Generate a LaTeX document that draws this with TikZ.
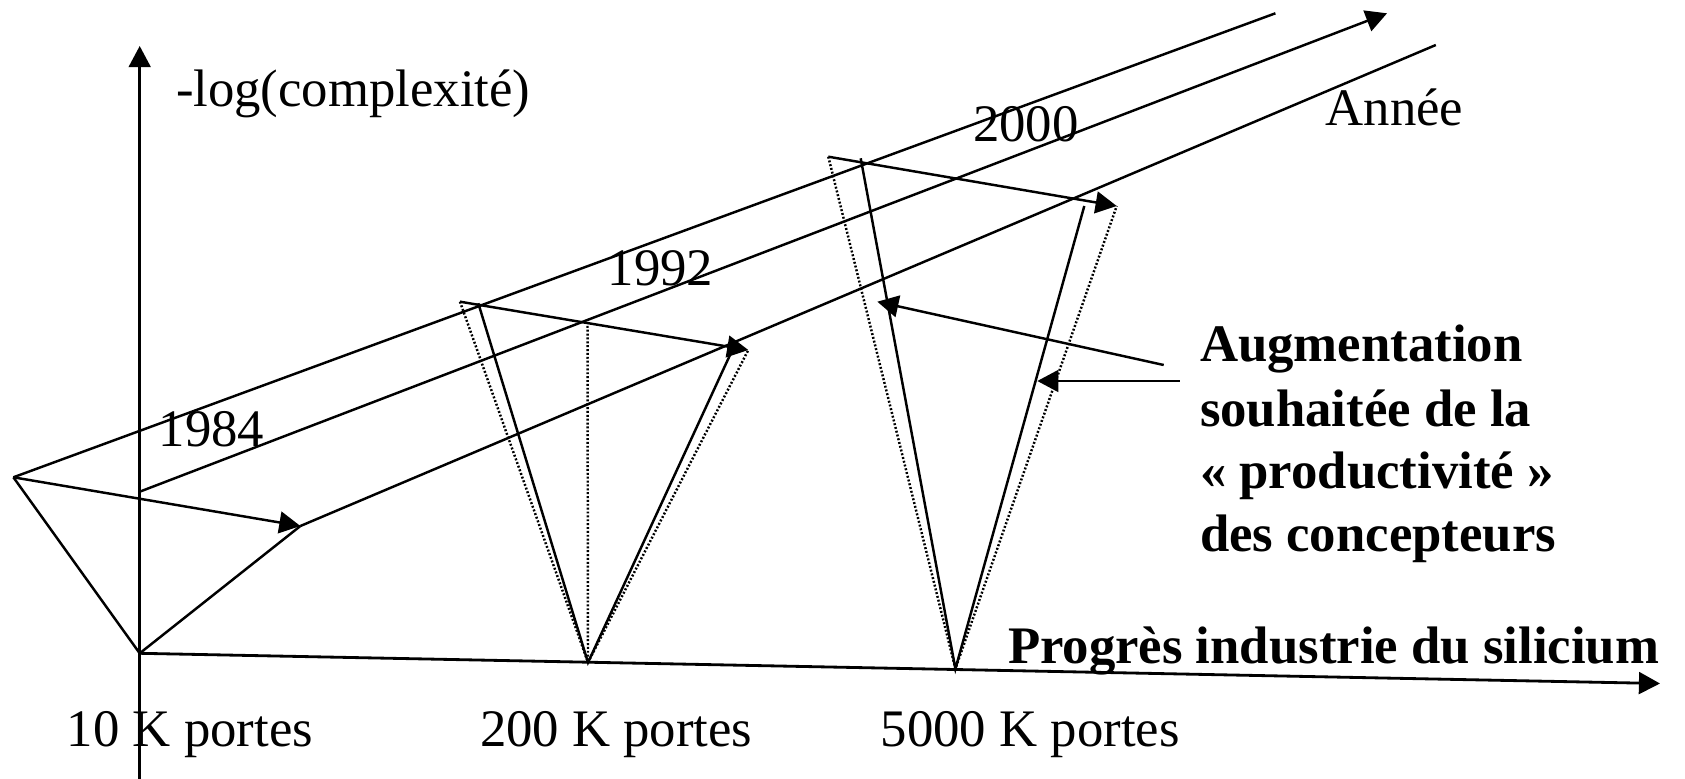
\documentclass[tikz,border=0pt]{standalone}
\usepackage{fontspec}
\setmainfont{Liberation Serif}
\usetikzlibrary{arrows.meta}
\begin{document}
\begin{tikzpicture}[x={(0.01cm,0)},y={(0,-0.01cm)},
  every node/.style={inner sep=0pt,outer sep=0pt,anchor=base west,font=\fontsize{15}{18}\selectfont},
  boldlbl/.style={font=\fontsize{15}{18}\selectfont\bfseries},
  ln/.style={line width=0.7pt},
  axisln/.style={line width=0.8pt},
  dotln/.style={line width=0.7pt,dash pattern=on 0.55pt off 0.55pt},
  >={Triangle[length=6pt,width=6.2pt]}]
\useasboundingbox (0,0) rectangle (1685,779);
% key points
\coordinate (vbot) at (139.7,779);
\coordinate (vtop) at (139.7,46);
\coordinate (V1) at (139.7,653.3);
\coordinate (htip) at (1660,683.5);
\coordinate (L) at (13.4,477.3);
\coordinate (T1) at (1275.4,13.3);
\coordinate (M0) at (139.7,491.7);
\coordinate (Mtip) at (1387,13.3);
\coordinate (A1) at (300.4,526);
\coordinate (B1) at (1435.8,45);
% 1992
\coordinate (P92) at (460,301.7);
\coordinate (Q92) at (478.3,303.3);
\coordinate (tip92) at (748.3,350);
\coordinate (R92) at (730,355);
\coordinate (V2) at (588,662.5);
\coordinate (X92) at (587.5,322);
% 2000
\coordinate (P00) at (828.3,156.7);
\coordinate (Q00) at (860.7,158.3);
\coordinate (tip00) at (1116.7,206);
\coordinate (R00) at (1084.3,206);
\coordinate (V3) at (955.4,668.8);
% pointer arrows
\coordinate (S1) at (1163.7,365);
\coordinate (tS1) at (877.3,301.7);
\coordinate (S2) at (1179.8,381);
\coordinate (tS2) at (1037.3,381);

% axes
\draw[ln,->] (vbot) -- (vtop);
\draw[axisln,->] (V1) -- (htip);
% year lines
\draw[ln] (L) -- (T1);
\draw[ln,->] (M0) -- (Mtip);
\draw[ln] (A1) -- (B1);
% 1984
\draw[ln,->] (L) -- (A1);
\draw[ln] (L) -- (V1) -- (A1);
% 1992
\draw[ln,->] (P92) -- (tip92);
\draw[ln] (Q92) -- (V2) -- (R92);
\draw[dotln] (P92) -- (V2) -- (tip92);
\draw[dotln] (X92) -- (V2);
% 2000
\draw[ln,->] (P00) -- (tip00);
\draw[ln] (Q00) -- (V3) -- (R00);
\draw[dotln] (P00) -- (V3) -- (tip00);
% pointers
\draw[ln,->] (S1) -- (tS1);
\draw[ln,->] (S2) -- (tS2);

% labels
\node (ylab) at (176,106.7) {-log(complexité)};
\node (y84) at (158.8,446) {1984};
\node (y92) at (607.7,285) {1992};
\node (y00) at (973,141.5) {2000};
\node (annee) at (1325.7,126) {Année};
\node (p10) at (67,746.7) {10 K portes};
\node (p200) at (480,746.7) {200 K portes};
\node (p5000) at (880.8,746.7) {5000 K portes};
\node[boldlbl] (prog) at (1008,663.3) {Progrès industrie du silicium};
\node[boldlbl] (aug1) at (1200,361.7) {Augmentation};
\node[boldlbl] (aug2) at (1200,426) {souhaitée de la};
\node[boldlbl] (aug3) at (1200,488.3) {« productivité »};
\node[boldlbl] (aug4) at (1200,551.7) {des concepteurs};
\end{tikzpicture}
\end{document}
